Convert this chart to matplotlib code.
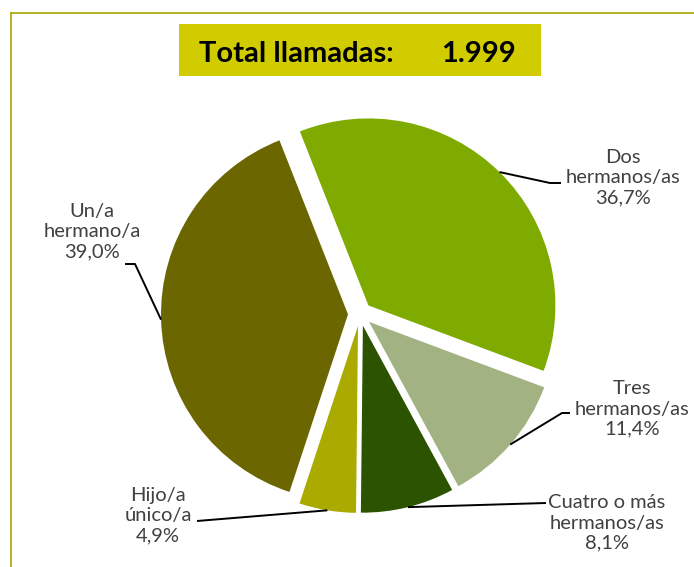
import math

import matplotlib

matplotlib.use("Agg")
import matplotlib.pyplot as plt
from matplotlib.lines import Line2D
from matplotlib.patches import Rectangle

W, H = 694, 567

categories = [
    "Dos\nhermanos/as",
    "Tres\nhermanos/as",
    "Cuatro o más\nhermanos/as",
    "Hijo/a\núnico/a",
    "Un/a\nhermano/a",
]
shares = [36.7, 11.4, 8.1, 4.9, 39.0]
colors = ["#7fab00", "#a2b283", "#2c5400", "#aaaa00", "#6b6600"]
total_calls = "1.999"

# label anchors (image pixels, y down): text centre, elbow, end of leader
label_pos = [(623, 178), (632, 409), (607, 523), (158, 516), (92, 232)]
leader_pts = [
    [(550, 183), (561, 183)],
    [(562, 413), (570, 413)],
    [(546, 503)],
    [(197, 521)],
    [(135, 264), (125, 264)],
]

plt.rcParams["font.family"] = ["Lato", "DejaVu Sans"]

fig = plt.figure(figsize=(W / 100, H / 100), dpi=100)
ax = fig.add_axes([0, 0, 1, 1])


def iy(y):
    # image row -> data y
    return H - y


cx, cy, r = 360, iy(314), 187
wedges, _ = ax.pie(
    shares,
    colors=colors,
    startangle=111.5,
    counterclock=False,
    center=(cx, cy),
    radius=r,
    explode=[12] * len(shares),
    wedgeprops=dict(linewidth=0),
    frame=True,
)
ax.set_xlim(0, W)
ax.set_ylim(0, H)
ax.set_aspect("equal")
ax.axis("off")

for w, lab, val, (tx, ty), pts in zip(wedges, categories, shares, label_pos, leader_pts):
    mid = math.radians((w.theta1 + w.theta2) / 2)
    x0 = w.center[0] + w.r * math.cos(mid)
    y0 = w.center[1] + w.r * math.sin(mid)
    xs = [x0] + [p[0] for p in pts]
    ys = [y0] + [iy(p[1]) for p in pts]
    ax.plot(xs, ys, color="black", lw=1.4, solid_capstyle="butt")
    txt = f"{lab}\n{val:.1f}%".replace(".", ",")
    ax.text(tx, iy(ty), txt, ha="center", va="center", multialignment="center",
            fontsize=14.5, color="#404040", linespacing=1.22)

# title box
ax.add_patch(Rectangle((179, iy(76)), 362, 52, facecolor="#d0cc00", edgecolor="none"))
ax.text(199, iy(62), "Total llamadas:", ha="left", va="baseline",
        fontsize=21, fontweight="bold", color="black")
ax.text(516, iy(62), total_calls, ha="right", va="baseline",
        fontsize=21, fontweight="bold", color="black")

# chart-area border (cropped on right and bottom)
fig.add_artist(Line2D([10.5 / W, 10.5 / W], [0, 1 - 12.5 / H], color="#aaa600", lw=1.2))
fig.add_artist(Line2D([10.5 / W, 1], [1 - 12.5 / H, 1 - 12.5 / H], color="#aaa600", lw=1.2))

fig.savefig("out.png", dpi=100)
